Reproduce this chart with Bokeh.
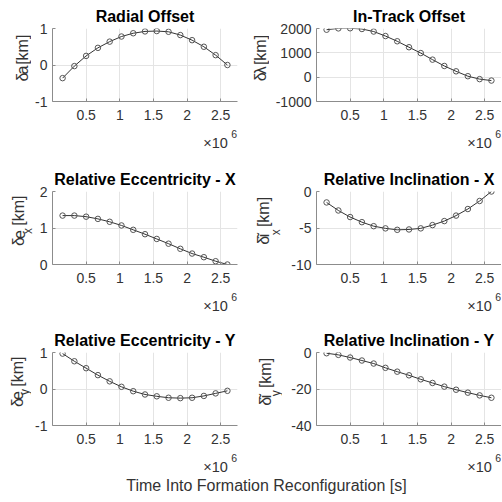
import math
from bokeh.plotting import figure
from bokeh.layouts import column, row
from bokeh.models import Range1d, FixedTicker, Label
from bokeh.embed import file_html
from bokeh.resources import INLINE

# ---- data ----
t_s = [150000, 325000, 500000, 675000, 850000, 1025000, 1200000, 1375000,
       1550000, 1725000, 1900000, 2075000, 2250000, 2425000, 2600000]
radial_km = [-0.36, -0.03, 0.25, 0.47, 0.64, 0.78, 0.87, 0.92,
             0.93, 0.91, 0.82, 0.68, 0.50, 0.27, 0.0]
intrack_km = [1950, 2005, 2010, 1980, 1875, 1690, 1475, 1230,
              990, 720, 460, 240, 40, -80, -140]
ecc_x_km = [1.34, 1.34, 1.31, 1.25, 1.17, 1.07, 0.95, 0.83,
            0.70, 0.57, 0.43, 0.30, 0.20, 0.09, 0.0]
inc_x_km = [-1.5, -2.6, -3.5, -4.2, -4.75, -5.05, -5.25, -5.2,
            -5.05, -4.6, -4.05, -3.3, -2.4, -1.3, 0.0]
ecc_y_km = [0.97, 0.76, 0.57, 0.38, 0.21, 0.06, -0.06, -0.15,
            -0.20, -0.24, -0.25, -0.24, -0.19, -0.12, -0.05]
inc_y_km = [-0.4, -1.3, -2.75, -4.4, -6.05, -8.4, -10.5, -12.5,
            -14.7, -16.7, -18.7, -20.4, -22.0, -23.5, -24.8]

titles = ["Radial Offset", "In-Track Offset",
          "Relative Eccentricity - X", "Relative Inclination - X",
          "Relative Eccentricity - Y", "Relative Inclination - Y"]
y_limits = [(-1, 1), (-1000, 2000), (0, 2), (-10, 0), (-1, 1), (-40, 0)]
y_ticks = [[-1, 0, 1], [-1000, 0, 1000, 2000], [0, 1, 2], [-10, -5, 0],
           [-1, 0, 1], [-40, -20, 0]]
# y-axis labels as (text, is_subscript) pieces
y_labels = [[("δ", False), ("a", False), ("[km]", False)],
            [("δ", False), ("λ", False), ("[km]", False)],
            [("δ", False), ("e", False), ("x", True), ("[km]", False)],
            [("δ", False), ("ĩ", False), ("x", True), ("[km]", False)],
            [("δ", False), ("e", False), ("y", True), ("[km]", False)],
            [("δ", False), ("ĩ", False), ("y", True), ("[km]", False)]]
x_limits = (0, 2750000)
x_ticks = [500000, 1000000, 1500000, 2000000, 2500000]
x_tick_labels = ["0.5", "1", "1.5", "2", "2.5"]
x_exponent = "6"
x_label = "Time Into Formation Reconfiguration [s]"

series = [radial_km, intrack_km, ecc_x_km, inc_x_km, ecc_y_km, inc_y_km]

# ---- style / layout ----
FONT = "Liberation Sans"
TXT = "#333333"
AX = "#8c8c8c"
GRID = "#e4e4e4"
TOTAL_W = 501
FW, FH = 185, 73
BOT_B = 26
TOP_BORDERS = [28, 27, 27]      # top border of each row's axes (holds title)
MAIN_SZ, SUB_SZ = 16.0, 12.0
GAP_LETTER, GAP_UNIT = 3.0, 8.0
WID = {'δ': 0.556, 'a': 0.556, 'e': 0.556, 'λ': 0.5, 'ĩ': 0.278, 'x': 0.5,
       'y': 0.5, ' ': 0.278, '[': 0.278, 'k': 0.5, 'm': 0.833, ']': 0.278}

FRAME_LEFT = [52, 316]
FRAME_TOP = [28, 191, 352]
# per panel: (label strip width, axis border left, axis border right,
#             main text centre x, subscript centre x)  -- page pixels
panel_geom = [(31, 21, 13, 22.0, None), (19, 47, 0, 259.5, None),
              (34, 18, 13, 18.3, 27.3), (32, 34, 0, 263.0, 275.3),
              (31, 21, 13, 16.5, 24.3), (32, 34, 0, 265.0, 275.1)]


def tw(s, size):
    return sum(WID.get(c, 0.55) for c in s) * size


def strip(w, h):
    s = figure(width=w, height=h, x_range=Range1d(0, w), y_range=Range1d(0, h),
               min_border=0, x_axis_type=None, y_axis_type=None, title=None,
               output_backend="svg", toolbar_location=None)
    s.outline_line_color = None
    s.background_fill_color = "white"
    s.border_fill_color = "white"
    return s


def add_text(fig, x, y, text, size, align="left", bold=False, color=TXT,
             angle=0.0):
    fig.add_layout(Label(x=x, y=y, text=text, text_align=align,
                         text_baseline="middle", angle=angle,
                         text_font=FONT, text_font_size=f"{size}px",
                         text_font_style="bold" if bold else "normal",
                         text_color=color))


def make_axes(i):
    r = i // 2
    sw, bl, br, _, _ = panel_geom[i]
    tb = TOP_BORDERS[r]
    y0, y1 = y_limits[i]
    p = figure(width=bl + FW + br, height=tb + FH + BOT_B, title=titles[i],
               min_border_left=bl, min_border_right=br,
               min_border_top=tb, min_border_bottom=BOT_B,
               x_range=Range1d(*x_limits), y_range=Range1d(y0, y1),
               output_backend="svg", toolbar_location=None)
    p.title.align = "center"
    p.title.text_font = FONT
    p.title.text_font_size = "16px"
    p.title.text_font_style = "bold"
    p.title.text_color = "black"
    p.title.standoff = 7
    p.outline_line_color = None
    p.background_fill_color = "white"
    p.border_fill_color = "white"
    p.xaxis.ticker = FixedTicker(ticks=x_ticks)
    p.xaxis.major_label_overrides = {k: v for k, v in zip(x_ticks, x_tick_labels)}
    p.yaxis.ticker = FixedTicker(ticks=y_ticks[i])
    p.yaxis.major_label_overrides = {k: str(k) for k in y_ticks[i]}
    for ax in (p.xaxis, p.yaxis):
        ax.axis_label = None
        ax.axis_label_standoff = 0
        ax.axis_line_color = AX
        ax.major_tick_line_color = AX
        ax.major_tick_in = 3
        ax.major_tick_out = 0
        ax.minor_tick_line_color = None
        ax.major_label_text_font = FONT
        ax.major_label_text_font_size = "14px"
        ax.major_label_text_color = TXT
    p.xaxis.major_label_standoff = 8
    p.yaxis.major_label_standoff = 5
    p.xgrid.ticker = FixedTicker(ticks=x_ticks)
    p.ygrid.ticker = FixedTicker(ticks=y_ticks[i])
    p.grid.grid_line_color = GRID
    p.grid.grid_line_width = 1

    p.line(t_s, series[i], line_color="#333333", line_width=1)
    p.scatter(t_s, series[i], marker="circle", size=5.5, fill_color=None,
              line_color="#555555", line_width=1)
    return p


def make_ylabel_strip(i):
    r, c = divmod(i, 2)
    sw, bl, br, cx_main, cx_sub = panel_geom[i]
    tb = TOP_BORDERS[r]
    h = tb + FH + BOT_B
    s = strip(sw, h)
    strip_left = FRAME_LEFT[c] - bl - sw
    parts = y_labels[i]
    gaps = []
    for k, (t, sub) in enumerate(parts):
        if k == 0 or sub:
            gaps.append(0.0)
        elif t.startswith("["):
            gaps.append(GAP_UNIT)
        else:
            gaps.append(GAP_LETTER)
    widths = [tw(t, SUB_SZ if sub else MAIN_SZ) for t, sub in parts]
    total = sum(widths) + sum(gaps)
    pos = h - (tb + FH / 2) - total / 2 + 2
    for (t, sub), w, g in zip(parts, widths, gaps):
        pos += g
        cx = cx_sub if sub else cx_main
        add_text(s, cx - strip_left, pos, t, SUB_SZ if sub else MAIN_SZ,
                 angle=math.pi / 2)
        pos += w
    return s


def make_band(top, bottom, exp_row, with_xlabel=False):
    h = bottom - top
    s = strip(TOTAL_W, h)
    fb = FRAME_TOP[exp_row] + FH
    for c in range(2):
        fr = FRAME_LEFT[c] + FW
        add_text(s, fr - 9.7, bottom - (fb + 41), "×10", 14.5, align="right")
        add_text(s, fr - 0.5, bottom - (fb + 32.6), x_exponent, 10.5,
                 align="right")
    if with_xlabel:
        add_text(s, 266, bottom - 485, x_label, 16, align="center")
    return s


items = []
for r in range(3):
    ax_top = FRAME_TOP[r] - TOP_BORDERS[r]
    if r > 0:
        prev_bottom = FRAME_TOP[r - 1] + FH + BOT_B
        items.append(make_band(prev_bottom, ax_top, exp_row=r - 1))
    panels = []
    for c in range(2):
        i = 2 * r + c
        panels.append(make_ylabel_strip(i))
        panels.append(make_axes(i))
    items.append(row(*panels))
items.append(make_band(FRAME_TOP[2] + FH + BOT_B, 501, exp_row=2,
                       with_xlabel=True))

layout = column(*items)

with open("out.html", "w") as f:
    f.write(file_html(layout, INLINE))
